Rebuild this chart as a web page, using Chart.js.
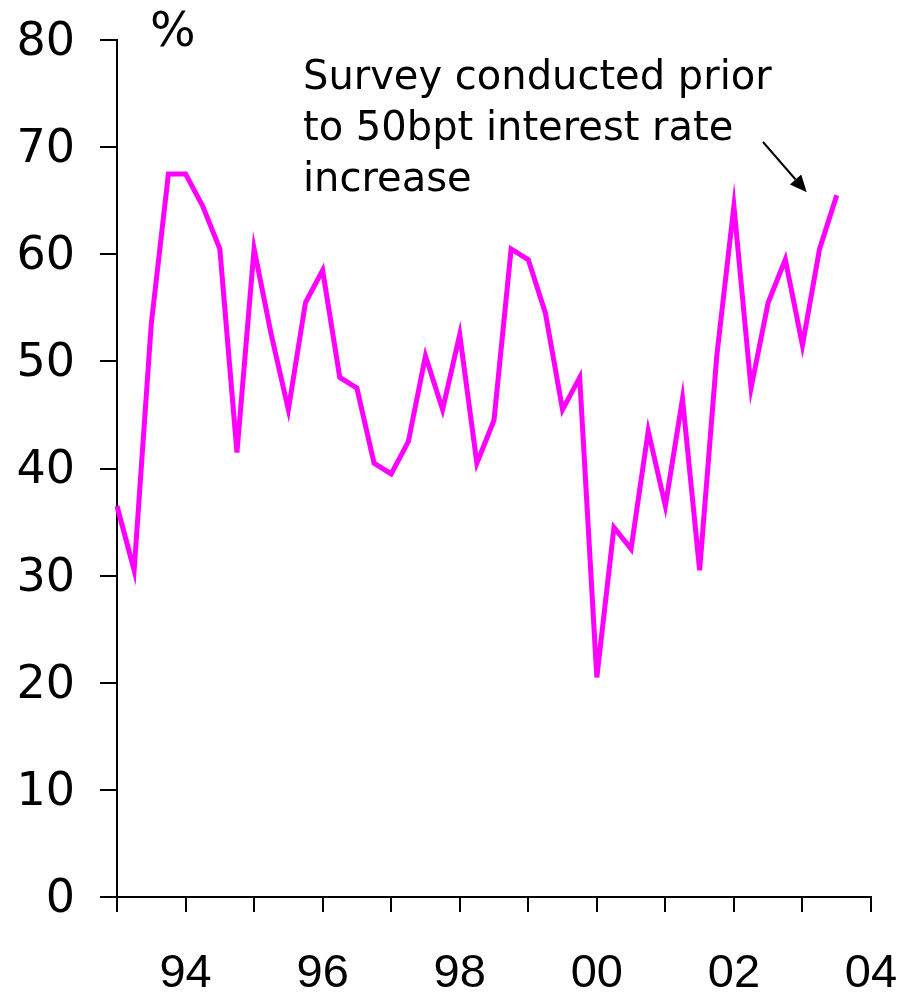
<!DOCTYPE html>
<html>
<head>
<meta charset="utf-8">
<style>
  html, body { margin: 0; padding: 0; background: #fff; }
  #wrap { width: 903px; height: 993px; position: relative; }
</style>
<script src="https://cdn.jsdelivr.net/npm/chart.js@4.4.1/dist/chart.umd.min.js"></script>
</head>
<body>
<div id="wrap"><canvas id="c" width="903" height="993"></canvas></div>
<script>
// Quarterly survey balance, % (Q1 1993 – Q3 2003)
const quarters = [
  '93Q1','93Q2','93Q3','93Q4','94Q1','94Q2','94Q3','94Q4',
  '95Q1','95Q2','95Q3','95Q4','96Q1','96Q2','96Q3','96Q4',
  '97Q1','97Q2','97Q3','97Q4','98Q1','98Q2','98Q3','98Q4',
  '99Q1','99Q2','99Q3','99Q4','00Q1','00Q2','00Q3','00Q4',
  '01Q1','01Q2','01Q3','01Q4','02Q1','02Q2','02Q3','02Q4',
  '03Q1','03Q2','03Q3'
];
const surveyValues = [
  36.5, 30.5, 53.5, 67.5, 67.5, 64.5, 60.5, 41.5,
  60.5, 52.5, 45.5, 55.5, 58.5, 48.5, 47.5, 40.5,
  39.5, 42.5, 50.5, 45.5, 52.5, 40.5, 44.5, 60.5,
  59.5, 54.5, 45.5, 48.5, 20.5, 34.5, 32.5, 43.5,
  36.5, 46.5, 30.5, 50.5, 64.5, 47.5, 55.5, 59.5,
  51.5, 60.5, 65.5
];
// One tick per year (every 4 quarters), labels on even years only
const xTickLabels = ['', '94', '', '96', '', '98', '', '00', '', '02', '', '04'];
const yTickValues = [0, 10, 20, 30, 40, 50, 60, 70, 80];
const annotationLines = ['Survey conducted prior', 'to 50bpt interest rate', 'increase'];
const unitLabel = '%';

const points = surveyValues.map((v, i) => ({ x: i, y: v }));

// keep the plot frame fixed: no extra room reserved for edge labels
function noEdgePadding(scale) {
  scale.paddingTop = 0;
  scale.paddingBottom = 0;
  scale.paddingLeft = 0;
  scale.paddingRight = 0;
}

const overlay = {
  id: 'overlay',
  afterDraw(chart) {
    const ctx = chart.ctx;
    const xs = chart.scales.x, ys = chart.scales.y;
    ctx.save();
    ctx.fillStyle = '#000';
    ctx.strokeStyle = '#000';

    // unit label
    ctx.font = '48px "DejaVu Sans"';
    ctx.textAlign = 'left';
    ctx.textBaseline = 'alphabetic';
    ctx.fillText(unitLabel, 150, 46);

    // note text
    ctx.font = '40px "DejaVu Sans"';
    const tx = 303;
    annotationLines.forEach((line, k) => ctx.fillText(line, tx, 89 + k * 51));

    // arrow towards the latest reading
    const last = surveyValues.length - 1;
    const endX = xs.getPixelForValue(last) - 30;
    const endY = ys.getPixelForValue(surveyValues[last]) - 3;
    const startX = 763, startY = 142;
    const ang = Math.atan2(endY - startY, endX - startX);
    const headLen = 17, headW = 7.5;
    const bx = endX - headLen * Math.cos(ang), by = endY - headLen * Math.sin(ang);
    ctx.lineWidth = 2;
    ctx.beginPath();
    ctx.moveTo(startX, startY);
    ctx.lineTo(bx, by);
    ctx.stroke();
    ctx.beginPath();
    ctx.moveTo(endX, endY);
    ctx.lineTo(bx + headW * Math.sin(ang), by - headW * Math.cos(ang));
    ctx.lineTo(bx - headW * Math.sin(ang), by + headW * Math.cos(ang));
    ctx.closePath();
    ctx.fill();
    ctx.restore();
  }
};

new Chart(document.getElementById('c'), {
  type: 'line',
  data: {
    datasets: [{
      data: points,
      borderColor: '#FF00FF',
      borderWidth: 5,
      pointRadius: 0,
      tension: 0,
      fill: false,
      clip: false
    }]
  },
  options: {
    responsive: false,
    animation: false,
    events: [],
    layout: { padding: { top: 40, right: 32, left: 0, bottom: 0 } },
    plugins: { legend: { display: false }, tooltip: { enabled: false } },
    scales: {
      x: {
        type: 'linear',
        min: 0,
        max: 44,
        afterFit(scale) { scale.height = 96; noEdgePadding(scale); },
        afterBuildTicks(scale) {
          scale.ticks = xTickLabels.map((_, k) => ({ value: k * 4 }));
        },
        ticks: {
          autoSkip: false,
          maxRotation: 0,
          color: '#000',
          padding: 34,
          font: { family: '"Liberation Sans", Arial', size: 47 },
          callback: (v) => xTickLabels[Math.round(v / 4)]
        },
        grid: {
          drawOnChartArea: false,
          drawTicks: true,
          tickLength: 15,
          color: '#000',
          lineWidth: 2
        },
        border: { display: true, color: '#000', width: 2 }
      },
      y: {
        min: 0,
        max: 80,
        afterFit(scale) { scale.width = 117; noEdgePadding(scale); },
        afterBuildTicks(scale) {
          scale.ticks = yTickValues.map(v => ({ value: v }));
        },
        ticks: {
          color: '#000',
          padding: 25,
          labelOffset: 3,
          font: { family: '"DejaVu Sans"', size: 46 },
          callback: (v) => String(v)
        },
        grid: {
          drawOnChartArea: false,
          drawTicks: true,
          tickLength: 17,
          color: '#000',
          lineWidth: 2
        },
        border: { display: true, color: '#000', width: 2 }
      }
    }
  },
  plugins: [overlay]
});
</script>
</body>
</html>
